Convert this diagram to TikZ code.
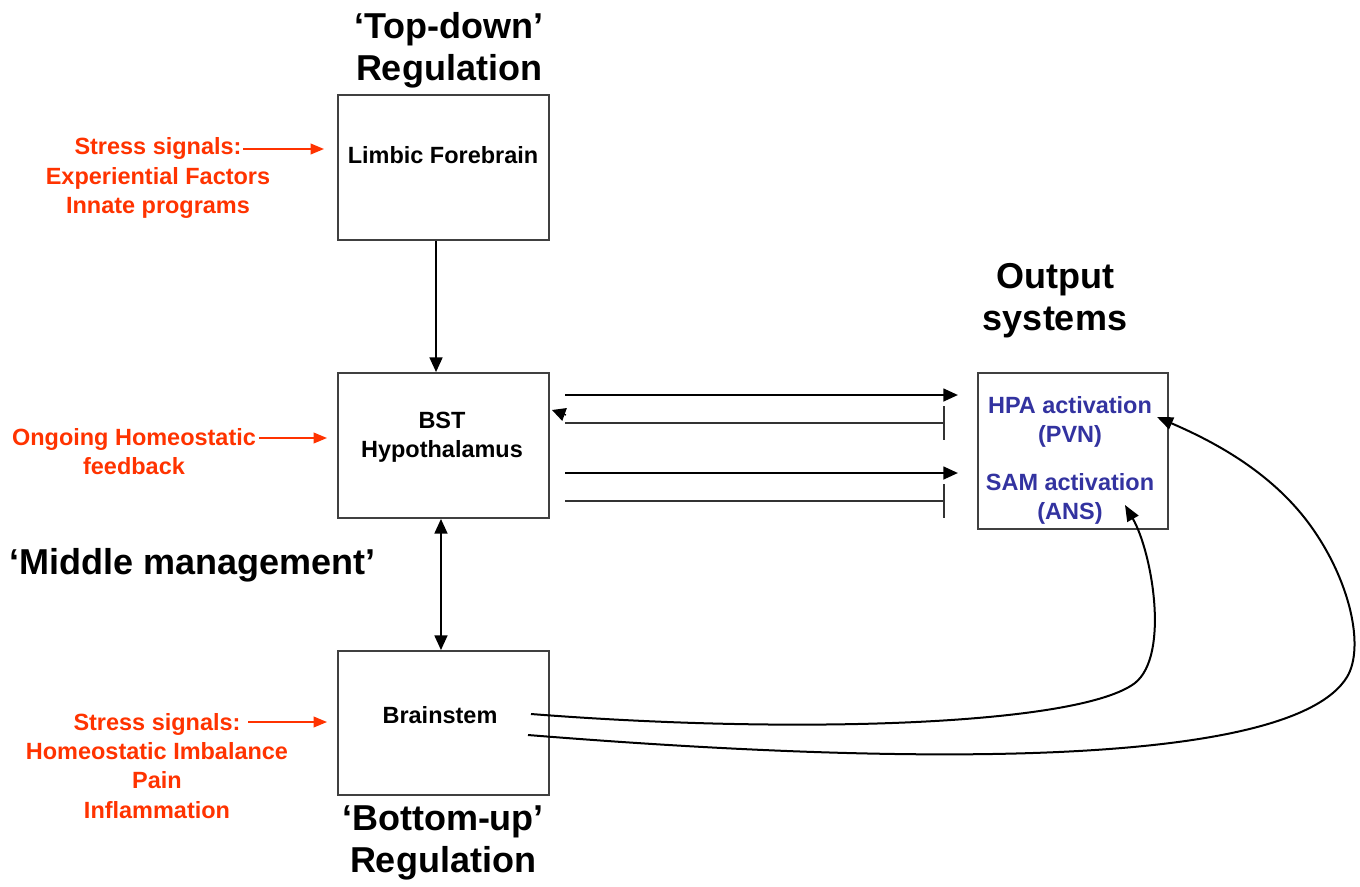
\documentclass[tikz,border=0pt]{standalone}
\usepackage{fontspec}
\setmainfont{Liberation Sans}
\usetikzlibrary{arrows.meta}
\definecolor{sigred}{RGB}{255,51,0}
\definecolor{outblue}{RGB}{51,51,160}
\begin{document}
\begin{tikzpicture}[x=0.75pt,y=-0.75pt,
  box/.style={draw=black!75, line width=1.3pt, inner sep=0pt},
  heading/.style={font=\fontsize{27}{31.5}\selectfont\bfseries, align=center, inner sep=0pt},
  small/.style={font=\fontsize{17.6}{21.8}\selectfont\bfseries, align=center, inner sep=0pt},
  redlabel/.style={small, text=sigred},
  bluelabel/.style={small, text=outblue},
  arr/.style={line width=1.8pt, -{Triangle[length=11pt,width=9.5pt]}},
  darr/.style={line width=1.8pt, {Triangle[length=11pt,width=9.5pt]}-{Triangle[length=11pt,width=9.5pt]}},
  inh/.style={line width=1.1pt, draw=black!80, -{Bar[width=25pt,line width=1.3pt]}},
  redarr/.style={line width=1.2pt, draw=sigred, -{Triangle[length=10pt,width=8pt]}},
  curvearr/.style={line width=1.5pt, -{Triangle[length=12pt,width=9.5pt]}}
]
\useasboundingbox (0,0) rectangle (1360,886);

% boxes
\node[box, minimum width=158.25pt, minimum height=108.75pt] (lf) at (443.5,167.5) {};
\node[box, minimum width=158.25pt, minimum height=108.75pt] (bst) at (443.5,445.5) {};
\node[box, minimum width=158.25pt, minimum height=108pt] (bs) at (443.5,723) {};
\node[box, minimum width=142.5pt, minimum height=117pt] (out) at (1073,451) {};

% box texts
\node[small] (lft) at (443,155) {Limbic Forebrain};
\node[small] (bstt) at (442,437) {BST\\Hypothalamus};
\node[small] (bst2) at (440,715) {Brainstem};
\node[bluelabel] (hpa) at (1070,422) {HPA activation\\(PVN)};
\node[bluelabel] (sam) at (1070,499) {SAM activation\\(ANS)};

% headings
\node[heading] (td) at (449,50) {‘Top-down’\\Regulation};
\node[heading] (bu) at (443,843) {‘Bottom-up’\\Regulation};
\node[heading] (os) at (1055,301) {Output\\systems};
\node[heading, anchor=west] (mm) at (9,565) {‘Middle management’};

% red labels
\node[redlabel] (s1) at (158,178) {Stress signals:\\Experiential Factors\\Innate programs};
\node[redlabel] (s2) at (134,452) {Ongoing Homeostatic\\feedback};
\node[redlabel] (s3) at (157,766) {Stress signals:\\Homeostatic Imbalance\\Pain\\Inflammation};

\coordinate (r1s) at (243,149);
\coordinate (r1e) at (324,149);
\coordinate (r2s) at (259,438);
\coordinate (r2e) at (327,438);
\coordinate (r3s) at (248,722);
\coordinate (r3e) at (327,722);
\draw[redarr] (r1s) -- (r1e);
\draw[redarr] (r2s) -- (r2e);
\draw[redarr] (r3s) -- (r3e);

% vertical arrows
\draw[arr] ([xshift=-5.6pt]lf.south) -- ([xshift=-5.6pt]bst.north);
\draw[darr] ([xshift=-1.9pt]bst.south) -- ([xshift=-1.9pt]bs.north);

% horizontal connections
\coordinate (h1s) at (565,395);
\coordinate (h1e) at (958,395);
\coordinate (h2s) at (565,423);
\coordinate (h2e) at (945,423);
\coordinate (h3s) at (565,473);
\coordinate (h3e) at (958,473);
\coordinate (h4s) at (565,501);
\coordinate (h4e) at (945,501);
\draw[arr] (h1s) -- (h1e);
\draw[inh] (h2s) -- (h2e);
\draw[arr] (h3s) -- (h3e);
\draw[inh] (h4s) -- (h4e);
\coordinate (ta) at (566,415);
\coordinate (tb) at (552,410);
\draw[line width=1pt, -{Triangle[length=10pt,width=10pt]}] (ta) -- (tb);

% curves from brainstem
\coordinate (c1s) at (531,714);
\coordinate (c1e) at (1125,505);
\coordinate (c2s) at (528,735);
\coordinate (c2e) at (1157,417);
\draw[curvearr] (c1s) .. controls (800,735) and (1080,725) .. (1135,683)
   .. controls (1170,655) and (1152,552) .. (c1e);
\draw[curvearr] (c2s) .. controls (900,765) and (1290,770) .. (1347,677)
   .. controls (1365,647) and (1350,580) .. (1310,525)
   .. controls (1270,470) and (1210,440) .. (c2e);
\end{tikzpicture}
\end{document}
